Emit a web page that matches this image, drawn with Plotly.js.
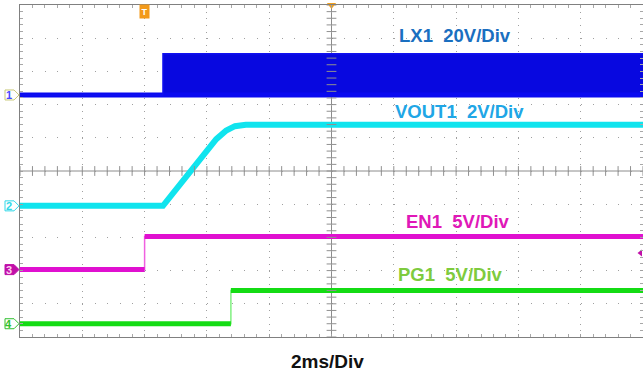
<!DOCTYPE html>
<html><head><meta charset="utf-8">
<script src="https://cdn.plot.ly/plotly-3.0.1.min.js"></script>
<style>html,body{margin:0;padding:0;background:#fff}#chart{width:643px;height:377px}</style>
</head><body><div id="chart"></div>
<script>
// Horizontal: time in ms (2 ms/div, 10 divisions). Vertical: screen divisions (0..10).
const timeRange = [0, 20];
const divRange = [0, 10];

const lx1Time = [0, 4.59, 4.59, 20];
const lx1Low  = [7.29, 7.29, 7.29, 7.29];
const lx1High = [7.29, 7.29, 8.53, 8.53];

const vout1Time = [0, 4.59, 6.30, 6.62, 6.90, 7.25, 20];
const vout1Div  = [3.95, 3.95, 5.96, 6.22, 6.35, 6.39, 6.39];

const en1Time = [0, 4.0, 4.0, 20];
const en1Div  = [2.03, 2.03, 3.03, 3.03];

const pg1Time = [0, 6.77, 6.77, 20];
const pg1Div  = [0.40, 0.40, 1.40, 1.40];

const channelNames  = ['1', '2', '3', '4'];
const channelLevels = [7.29, 3.95, 2.03, 0.40];
const channelColors = ['#4848ff', '#30d8e8', '#c010a8', '#30c030'];
const channelEdge   = ['#c8c878', '#30d8e8', '#c010a8', '#30c030'];

const labels      = ['LX1  20V/Div', 'VOUT1  2V/Div', 'EN1  5V/Div', 'PG1  5V/Div'];
const labelTime   = [12.10, 11.97, 12.33, 12.07];
const labelDiv    = [9.08, 6.78, 3.49, 1.87];
const labelColors = ['#1a6fc0', '#20a6e6', '#e018b8', '#7ecb3e'];
const timebaseLabel = '2ms/Div';

const triggerTime = 4.0;
const triggerLevelDiv = 2.53;

const FONT = 'Liberation Sans, Arial, sans-serif';

// keep thick only the horizontal/sloped parts, leave vertical edges thin
function thickParts(t, y) {
  const xs = [], ys = [];
  for (let i = 0; i < t.length; i++) {
    if (i > 0 && t[i] === t[i - 1]) { xs.push(null); ys.push(null); }
    xs.push(t[i]); ys.push(y[i]);
  }
  return {x: xs, y: ys};
}

const traces = [];

// LX1: baseline + switching envelope
traces.push({x: lx1Time, y: lx1Low, mode: 'lines', line: {color: '#0a0af0', width: 5}, hoverinfo: 'skip'});
traces.push({x: lx1Time, y: lx1High, mode: 'lines', fill: 'tonexty', fillcolor: '#0808e0',
  line: {color: '#1010f0', width: 1.5}, hoverinfo: 'skip'});

// VOUT1
traces.push({x: vout1Time, y: vout1Div, mode: 'lines', line: {color: '#10e4ee', width: 6}, hoverinfo: 'skip'});

// EN1
traces.push({x: en1Time, y: en1Div, mode: 'lines', line: {color: '#f060e0', width: 1.5}, hoverinfo: 'skip'});
const en1T = thickParts(en1Time, en1Div);
traces.push({x: en1T.x, y: en1T.y, mode: 'lines', connectgaps: false, line: {color: '#e010d0', width: 5}, hoverinfo: 'skip'});

// PG1
traces.push({x: pg1Time, y: pg1Div, mode: 'lines', line: {color: '#80f080', width: 1.5}, hoverinfo: 'skip'});
const pg1T = thickParts(pg1Time, pg1Div);
traces.push({x: pg1T.x, y: pg1T.y, mode: 'lines', connectgaps: false, line: {color: '#14dc14', width: 5}, hoverinfo: 'skip'});

// center-axis tick marks
const cxT = [], cxY = [];
for (let k = 0; k <= 50; k++) { cxT.push(timeRange[0] + k * 0.4); cxY.push(5); }
traces.push({x: cxT, y: cxY, mode: 'markers', marker: {symbol: 'line-ns', size: 7, line: {color: '#909090', width: 1}}, hoverinfo: 'skip', cliponaxis: false});
const cyT = [], cyY = [];
for (let k = 0; k <= 50; k++) { cyT.push(10); cyY.push(divRange[0] + k * 0.2); }
traces.push({x: cyT, y: cyY, mode: 'markers', marker: {symbol: 'line-ew', size: 7, line: {color: '#909090', width: 1}}, hoverinfo: 'skip', cliponaxis: false});

// trigger position marker (top centre) and trigger level marker (right)
traces.push({x: [10], y: [10], mode: 'markers', marker: {symbol: 'triangle-down', size: 8, color: '#f0a020'}, cliponaxis: false, hoverinfo: 'skip'});
traces.push({x: [timeRange[1] - 0.08], y: [triggerLevelDiv], mode: 'markers', marker: {symbol: 'triangle-left', size: 6, color: '#c010a8'}, cliponaxis: false, hoverinfo: 'skip'});

const annotations = [];
labels.forEach((txt, i) => {
  annotations.push({x: labelTime[i], y: labelDiv[i], xref: 'x', yref: 'y', xanchor: 'left', yanchor: 'middle',
    text: '<b>' + txt.replace(/  /g, '&nbsp; ') + '</b>', showarrow: false,
    font: {family: FONT, size: 18.5, color: labelColors[i]}});
});
annotations.push({x: 0.4928, y: -0.075, xref: 'paper', yref: 'paper', xanchor: 'center', yanchor: 'middle',
  text: '<b>' + timebaseLabel + '</b>', showarrow: false, font: {family: FONT, size: 19, color: '#111'}});
annotations.push({x: triggerTime, y: 9.79, xref: 'x', yref: 'y', text: '<b>T</b>', showarrow: false,
  bgcolor: '#f39a1a', borderpad: 1.5, font: {family: FONT, size: 9, color: '#fff'}});

const shapes = [
  {type: 'line', xref: 'x', yref: 'y', x0: 10, x1: 10, y0: 0, y1: 10, line: {color: '#8c8c8c', width: 1}, layer: 'below'},
  {type: 'line', xref: 'x', yref: 'y', x0: 0, x1: 20, y0: 5, y1: 5, line: {color: '#8c8c8c', width: 1}, layer: 'below'}
];
channelNames.forEach((n, i) => {
  const filled = (n === '3');
  shapes.push({type: 'path', xref: 'paper', yref: 'y', xsizemode: 'pixel', ysizemode: 'pixel',
    xanchor: 0, yanchor: channelLevels[i],
    path: 'M-15,-5 L-6,-5 L-1,0 L-6,5 L-15,5 Z',
    line: {color: channelEdge[i], width: 1}, fillcolor: filled ? channelColors[i] : 'rgba(0,0,0,0)'});
  annotations.push({x: 0, y: channelLevels[i], xref: 'paper', yref: 'y', xanchor: 'right', yanchor: 'middle',
    xshift: -6, text: '<b>' + n + '</b>', showarrow: false,
    font: {family: FONT, size: 11, color: filled ? '#ffd0f0' : channelColors[i]}});
});

const layout = {
  width: 643, height: 377,
  margin: {l: 20, r: 0, t: 5, b: 40, pad: 0},
  paper_bgcolor: '#fff', plot_bgcolor: '#fff',
  showlegend: false,
  xaxis: {range: timeRange, tick0: 0, dtick: 2, showticklabels: false, zeroline: false,
    showgrid: true, gridcolor: '#a0a0a0', gridwidth: 1, griddash: '1px,5.64px',
    ticks: 'inside', ticklen: 3, tickcolor: '#a0a0a0',
    showline: true, linecolor: '#808080', linewidth: 1, mirror: 'allticks',
    minor: {dtick: 0.4, ticks: 'inside', ticklen: 3, tickcolor: '#a8a8a8', showgrid: false},
    fixedrange: true},
  yaxis: {range: divRange, tick0: 0, dtick: 1, showticklabels: false, zeroline: false,
    showgrid: true, gridcolor: '#a0a0a0', gridwidth: 1, griddash: '1px,11.46px',
    ticks: 'inside', ticklen: 3, tickcolor: '#a0a0a0',
    showline: true, linecolor: '#808080', linewidth: 1, mirror: 'allticks',
    minor: {dtick: 0.2, ticks: 'inside', ticklen: 3, tickcolor: '#a8a8a8', showgrid: false},
    fixedrange: true},
  annotations: annotations,
  shapes: shapes
};

Plotly.newPlot('chart', traces, layout, {displayModeBar: false, staticPlot: true});
</script>
</body></html>
